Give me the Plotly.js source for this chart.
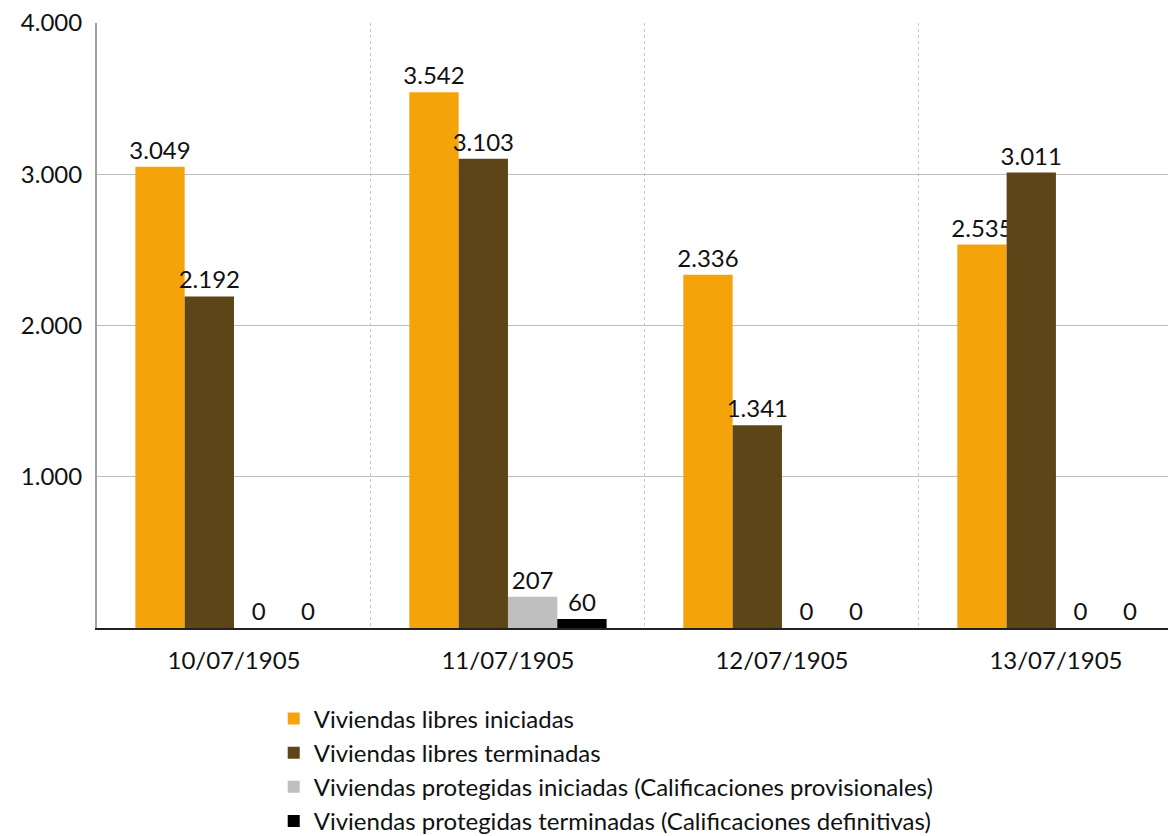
<!DOCTYPE html>
<html><head><meta charset="utf-8">
<script src="https://cdn.plot.ly/plotly-3.0.1.min.js"></script>
<style>html,body{margin:0;padding:0;background:#fff}#c{width:1168px;height:836px}</style>
</head><body><div id="c"></div>
<script>
const categories = ["10/07/1905", "11/07/1905", "12/07/1905", "13/07/1905"];
const libresIniciadas = [3049, 3542, 2336, 2535];
const libresTerminadas = [2192, 3103, 1341, 3011];
const protegidasIniciadas = [0, 207, 0, 0];
const protegidasTerminadas = [0, 60, 0, 0];
const seriesNames = [
  "Viviendas libres iniciadas",
  "Viviendas libres terminadas",
  "Viviendas protegidas iniciadas (Calificaciones provisionales)",
  "Viviendas protegidas terminadas (Calificaciones definitivas)"
];
const colors = ["#F5A30B", "#5C4517", "#BFBFBF", "#000000"];
const yTicks = [1000, 2000, 3000, 4000];

const FONT = "Lato, 'Open Sans', sans-serif";
const FS = 24;
const series = [libresIniciadas, libresTerminadas, protegidasIniciadas, protegidasTerminadas];
const traces = series.map((vals, i) => ({
  type: "bar",
  name: seriesNames[i],
  x: categories,
  y: vals,
  marker: {color: colors[i], line: {width: 0}},
  text: vals,
  texttemplate: "%{y:,d}",
  textposition: "outside",
  cliponaxis: false,
  constraintext: "none",
  textfont: {family: FONT, size: FS, color: "#111"},
  hoverinfo: "skip"
}));

const layout = {
  width: 1168, height: 836,
  margin: {l: 97, r: 0, t: 23, b: 208, autoexpand: false},
  paper_bgcolor: "#fff", plot_bgcolor: "#fff",
  separators: ",.",
  barmode: "group",
  bargap: 0.28,
  bargroupgap: 0,
  font: {family: FONT, size: FS, color: "#111"},
  showlegend: true,
  legend: {
    orientation: "v",
    x: 0.165, y: -0.113, xanchor: "left", yanchor: "top",
    font: {family: FONT, size: FS, color: "#111"},
    itemwidth: 30, tracegroupgap: 0,
    traceorder: "normal"
  },
  xaxis: {
    type: "category",
    range: [-0.5, 3.409],
    tickson: "boundaries",
    showgrid: true, gridcolor: "#C8C8C8", griddash: "dot", gridwidth: 1,
    ticks: "", ticklen: 0, ticklabelstandoff: 10,
    showline: true, linecolor: "#222", linewidth: 2,
    tickfont: {family: FONT, size: FS, color: "#111"},
    fixedrange: true
  },
  yaxis: {
    range: [0, 4000],
    tickvals: yTicks,
    tickformat: ",d",
    showgrid: true, gridcolor: "#BDBDBD", gridwidth: 1,
    zeroline: false,
    showline: true, linecolor: "#A0A0A0", linewidth: 2,
    ticks: "", ticklabelstandoff: 8,
    tickfont: {family: FONT, size: FS, color: "#111"},
    fixedrange: true
  }
};
Plotly.newPlot("c", traces, layout, {displayModeBar: false, staticPlot: true});
</script></body></html>
